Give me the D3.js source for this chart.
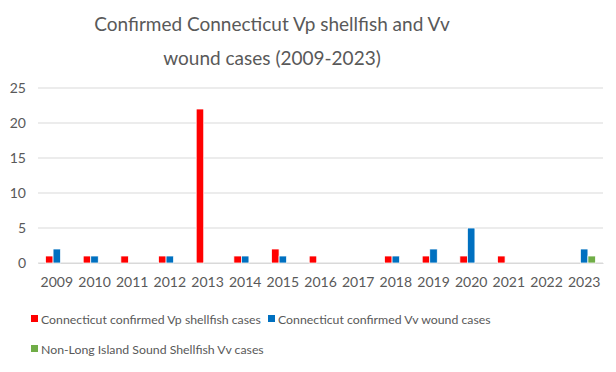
<!DOCTYPE html>
<html>
<head>
<meta charset="utf-8">
<script src="https://cdn.jsdelivr.net/npm/d3@7"></script>
<style>
  body { margin: 0; background: #fff; }
  text { font-family: Lato, "Open Sans", sans-serif; fill: #595959; }
</style>
</head>
<body>
<div id="chart"></div>
<script>
// chart data
var years = ["2009","2010","2011","2012","2013","2014","2015","2016","2017","2018","2019","2020","2021","2022","2023"];
var vpShellfish = [1, 1, 1, 1, 22, 1, 2, 1, 0, 1, 1, 1, 1, 0, 0];
var vvWound     = [2, 1, 0, 1, 0, 1, 1, 0, 0, 1, 2, 5, 0, 0, 2];
var nonLisVv    = [0, 0, 0, 0, 0, 0, 0, 0, 0, 0, 0, 0, 0, 0, 1];
var seriesNames = ["Connecticut confirmed Vp shellfish cases",
                   "Connecticut confirmed Vv wound cases",
                   "Non-Long Island Sound Shellfish Vv cases"];
var seriesColors = ["#ff0000", "#0070c0", "#70ad47"];
var yTicks = [0, 5, 10, 15, 20, 25];

var W = 616, H = 372;
var margin = {top: 88, right: 13, bottom: 109, left: 38};
var width = W - margin.left - margin.right,
    height = H - margin.top - margin.bottom;

var svg = d3.select("#chart").append("svg")
    .attr("width", W)
    .attr("height", H);

// title
svg.append("text")
    .attr("x", 272).attr("y", 31)
    .attr("text-anchor", "middle")
    .style("font-size", "19px")
    .text("Confirmed Connecticut Vp shellfish and Vv");
svg.append("text")
    .attr("x", 272).attr("y", 65)
    .attr("text-anchor", "middle")
    .style("font-size", "19px")
    .text("wound cases (2009-2023)");

var g = svg.append("g")
    .attr("transform", "translate(" + margin.left + "," + margin.top + ")");

var x = d3.scaleBand().domain(years).range([0, width]).padding(0);
var y = d3.scaleLinear().domain([0, 25]).range([height, 0]);

// gridlines
g.append("g")
  .selectAll("line")
  .data(yTicks)
  .enter().append("line")
    .attr("x1", 0).attr("x2", width)
    .attr("y1", function (d) { return y(d); })
    .attr("y2", function (d) { return y(d); })
    .attr("stroke", "#d9d9d9")
    .attr("stroke-width", 1);

// y axis
var yAxis = g.append("g")
    .call(d3.axisLeft(y).tickValues(yTicks).tickSize(0).tickPadding(12));
yAxis.select(".domain").remove();
yAxis.selectAll("text").style("font-size", "14px").attr("fill", "#595959");

// x axis
var xAxis = g.append("g")
    .attr("transform", "translate(0," + height + ")")
    .call(d3.axisBottom(x).tickSize(0).tickPadding(14));
xAxis.select(".domain").attr("stroke", "#d9d9d9");
xAxis.selectAll("text").style("font-size", "14px").attr("fill", "#595959");

// bars: gap width 200% -> bar = band / 5
var allSeries = [vpShellfish, vvWound, nonLisVv];
var inner = d3.scaleBand().domain([0, 1, 2])
    .range([x.bandwidth() / 5, x.bandwidth() * 4 / 5]);

allSeries.forEach(function (vals, si) {
  g.append("g")
    .selectAll("rect")
    .data(years.map(function (yr, i) { return {year: yr, v: vals[i]}; })
              .filter(function (d) { return d.v > 0; }))
    .enter().append("rect")
      .attr("x", function (d) { return x(d.year) + inner(si); })
      .attr("y", function (d) { return y(d.v); })
      .attr("width", inner.bandwidth())
      .attr("height", function (d) { return height - y(d.v); })
      .attr("fill", seriesColors[si])
      .attr("stroke", "#fff")
      .attr("stroke-width", 0.75);
});

// legend
var legendPos = [[31, 319], [268, 319], [31, 349]];
var legend = svg.append("g");
seriesNames.forEach(function (name, i) {
  var item = legend.append("g")
      .attr("transform", "translate(" + legendPos[i][0] + "," + legendPos[i][1] + ")");
  item.append("rect")
      .attr("x", 0).attr("y", -4)
      .attr("width", 7).attr("height", 7)
      .attr("fill", seriesColors[i]);
  item.append("text")
      .attr("x", 10).attr("y", 5)
      .style("font-size", "12.3px")
      .text(name);
});
</script>
</body>
</html>
